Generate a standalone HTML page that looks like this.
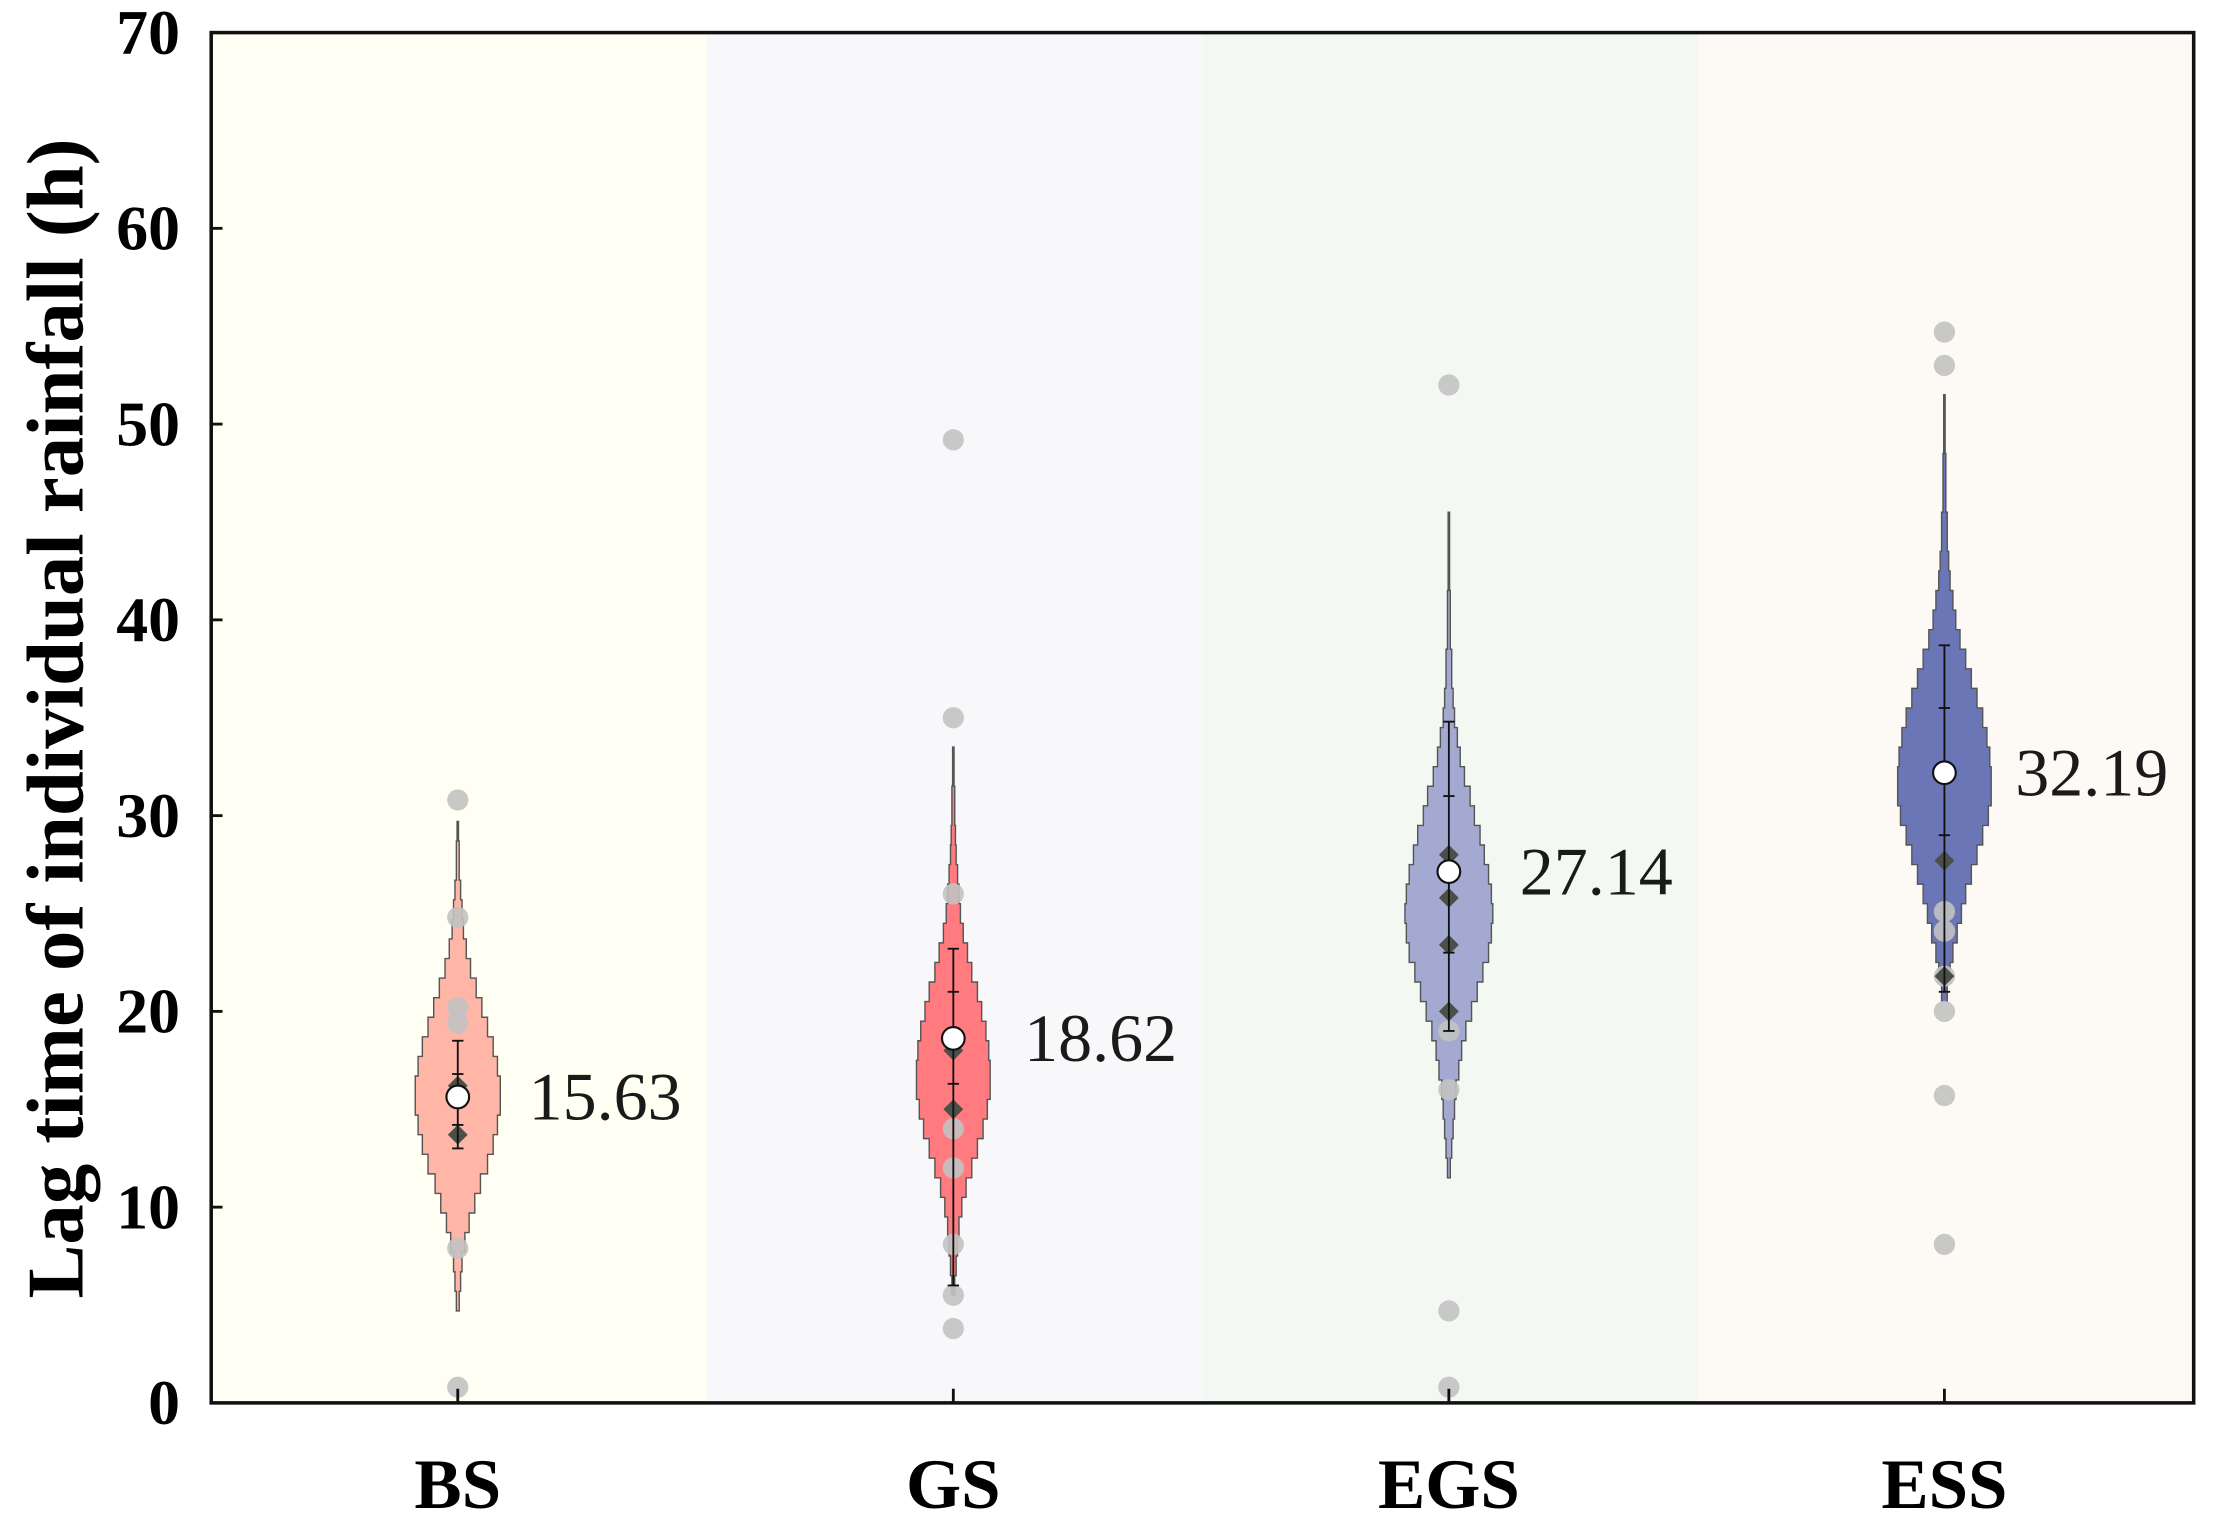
<!DOCTYPE html>
<html><head><meta charset="utf-8"><style>
html,body{margin:0;padding:0;background:#fff}
svg{display:block}
text{font-family:"Liberation Serif",serif}
</style></head><body>
<svg id="chart" width="2215" height="1531" viewBox="0 0 1563 1080.4" xmlns="http://www.w3.org/2000/svg"></svg>
<script>
const categories = ["BS","GS","EGS","ESS"];
const means = [15.63,18.62,27.14,32.19];
const violinStart = [4.7,5.5,11.5,20.5];
const violinBS = [1,2,3,5,8,12,16,21,25,28,30,30,28,25,21,17,13,9,6,4,3,2,1,1,0.5];
const violinGS = [1,2,3,4,6,9,13,17,21,24,26,26,25,23,20,17,13,10,7,5,4,3,2,1.5,1,1,0.5,0.5];
const violinEGS = [1,2,3,4,5,7,9,12,16,20,24,28,30,31,30,28,25,22,18,15,11,8,6,4,3,2,2,1,1,1,0.5,0.5,0.5,0.5];
const violinESS = [2,4,6,9,12,15,19,23,27,31,33,33,32,30,27,23,19,15,11,8,6,4,3,2,2,1,1,1,0.5,0.5,0.5];
const errLow = [13,6,19,21];
const errHigh = [18.5,23.2,34.8,38.7];
const errTickA = [16.8,21,31,35.5];
const errTickB = [14.2,16.3,23,29];
const diamondsBS = [13.7,16.2];
const diamondsGS = [15,18];
const diamondsEGS = [20,23.4,25.8,28];
const diamondsESS = [27.7,21.8];
const pointsBS = [30.8,24.8,20.2,19.4,7.9,0.8];
const pointsGS = [49.2,35,26,14,12,8.1,5.5,3.8];
const pointsEGS = [52,19,16,4.7,0.8];
const pointsESS = [54.7,53,25.1,24.1,21.8,20,15.7,8.1];
const yTicks = [0,10,20,30,40,50,60,70];

const violins=[violinBS,violinGS,violinEGS,violinESS];
const diamonds=[diamondsBS,diamondsGS,diamondsEGS,diamondsESS];
const points=[pointsBS,pointsGS,pointsEGS,pointsESS];
const fills=["#ffb6a6","#ff7b80","#a3a9d1","#6b76b6"];
const bands=["#fffff4","#f8f8fb","#f3f8f2","#fdf9f4"];
const L=149,T=23,R=1548,B=990;
const y=v=>B-(v/70)*(B-T);
const bw=(R-L)/categories.length;
const x=i=>323+349.7*i;
const svg=document.getElementById('chart');
const NS="http://www.w3.org/2000/svg";
function mk(tag,attrs,parent){const e=document.createElementNS(NS,tag);for(const k in attrs)e.setAttribute(k,attrs[k]);(parent||svg).appendChild(e);return e;}

categories.forEach((c,i)=>{
  const r=mk('rect',{x:L+bw*i,y:T,width:bw,height:B-T,fill:bands[i]});
  
  
});

categories.forEach((c,i)=>{
  const cx=x(i), w=violins[i], s=violinStart[i];
  let right=[],left=[];
  for(let k=0;k<w.length;k++){
    const y0=y(s+k), y1=y(Math.min(s+k+1,s+w.length));
    right.push([cx+w[k],y0],[cx+w[k],y1]);
    left.push([cx-w[k],y0],[cx-w[k],y1]);
  }
  const pts=right.concat(left.reverse()).map(p=>p.join(',')).join(' ');
  const g=mk('polygon',{points:pts,fill:fills[i],stroke:'#555',"stroke-width":1});
  
  

  points[i].forEach(v=>{
    const p=mk('circle',{cx:cx,cy:y(v),r:7.5,fill:'#c2c2c2',"fill-opacity":0.9});
    
    
  });
  diamonds[i].forEach(v=>{
    const d=mk('polygon',{points:`${cx},${y(v)-7} ${cx+7},${y(v)} ${cx},${y(v)+7} ${cx-7},${y(v)}`,fill:'#4a4f48'});
    
    
  });
  const eb=mk('g',{stroke:'#111',"stroke-width":1.3});
  
  
  mk('line',{x1:cx,x2:cx,y1:y(errLow[i]),y2:y(errHigh[i])},eb);
  [errLow[i],errHigh[i],errTickA[i],errTickB[i]].forEach(v=>mk('line',{x1:cx-4,x2:cx+4,y1:y(v),y2:y(v)},eb));
  const m=mk('circle',{cx:cx,cy:y(means[i]),r:8,fill:'#fff',stroke:'#111',"stroke-width":1.5});
  
  
  const t=mk('text',{x:cx+50,y:y(means[i])+16,"font-size":48,fill:'#1a1a1a'});
  t.textContent=means[i].toFixed(2);
  
  
  const tk=mk('line',{x1:cx,x2:cx,y1:B,y2:B-10,stroke:'#111',"stroke-width":2});
  
  
  const xl=mk('text',{x:cx,y:1064,"font-size":50,"font-weight":'bold',"text-anchor":'middle',fill:'#000'});
  xl.textContent=c;
  
  
});

yTicks.forEach(v=>{
  if(v>0&&v<70){const l=mk('line',{x1:L,x2:L+8,y1:y(v),y2:y(v),stroke:'#111',"stroke-width":2});
  
  }
  const t=mk('text',{x:127,y:y(v)+15,"font-size":45,"font-weight":'bold',"text-anchor":'end',fill:'#000'});
  t.textContent=v;
  
  
});

const frame=mk('rect',{x:L,y:T,width:R-L,height:B-T,fill:'none',stroke:'#111',"stroke-width":2.5});


const yt=mk('text',{x:0,y:0,"font-size":57,"font-weight":'bold',"text-anchor":'middle',transform:'translate(58,507) rotate(-90)',fill:'#000'});
yt.textContent='Lag time of individual rainfall (h)';


</script>
</body></html>
